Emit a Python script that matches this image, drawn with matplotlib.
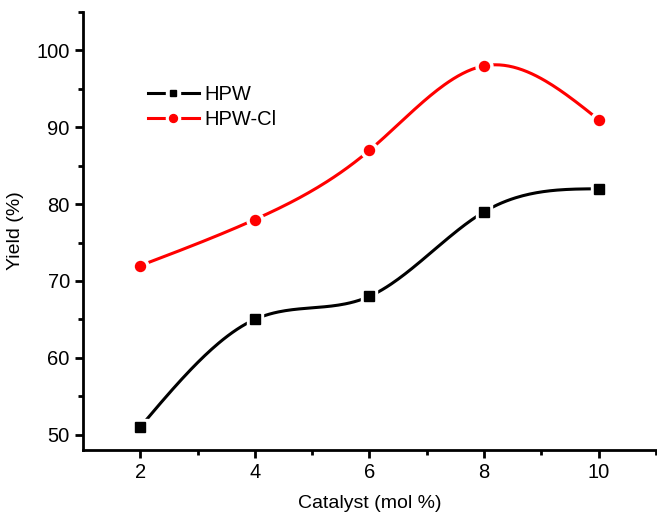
import numpy as np
import matplotlib.pyplot as plt

plt.rcParams['font.family'] = ['Liberation Sans', 'DejaVu Sans']

catalyst = [2, 4, 6, 8, 10]
hpw = [51, 65, 68, 79, 82]
hpw_cl = [72, 78, 87, 98, 91]


def natural_spline(x, y, n=200):
    x = np.asarray(x, float)
    y = np.asarray(y, float)
    k = len(x)
    h = np.diff(x)
    A = np.zeros((k, k))
    b = np.zeros(k)
    A[0, 0] = A[-1, -1] = 1
    for i in range(1, k - 1):
        A[i, i - 1] = h[i - 1]
        A[i, i] = 2 * (h[i - 1] + h[i])
        A[i, i + 1] = h[i]
        b[i] = 6 * ((y[i + 1] - y[i]) / h[i] - (y[i] - y[i - 1]) / h[i - 1])
    M = np.linalg.solve(A, b)
    xs = np.linspace(x[0], x[-1], n)
    idx = np.clip(np.searchsorted(x, xs) - 1, 0, k - 2)
    x0, x1 = x[idx], x[idx + 1]
    hh = x1 - x0
    t0, t1 = x1 - xs, xs - x0
    ys = (M[idx] * t0 ** 3 + M[idx + 1] * t1 ** 3) / (6 * hh) \
        + (y[idx] / hh - M[idx] * hh / 6) * t0 \
        + (y[idx + 1] / hh - M[idx + 1] * hh / 6) * t1
    return xs, ys


fig = plt.figure(figsize=(6.57, 5.14), dpi=100)
ax = fig.add_axes([0.1263, 0.1245, 0.872, 0.852])

handles = []
for ys, col, mk, ms, lab in [(hpw, 'black', 's', 6.5, 'HPW'),
                             (hpw_cl, 'red', 'o', 7.2, 'HPW-Cl')]:
    sx, sy = natural_spline(catalyst, ys)
    ax.plot(sx, sy, color=col, lw=2.2, zorder=2)
    ax.plot(catalyst, ys, ls='none', marker=mk, ms=ms + 5, color='white', zorder=3)
    ax.plot(catalyst, ys, ls='none', marker=mk, ms=ms, color=col, zorder=4)
    h1, = ax.plot([], [], color=col, lw=2.2, marker=mk, ms=ms + 3,
                  mfc='white', mec='white')
    h2, = ax.plot([], [], ls='none', marker=mk, ms=ms - 1.5, color=col)
    handles.append(((h1, h2), lab))

ax.legend([h for h, _ in handles], [l for _, l in handles],
          loc='upper left', bbox_to_anchor=(0.114, 0.833), frameon=False,
          fontsize=14.5, handlelength=2.5, handletextpad=0.3, labelspacing=0.3,
          borderaxespad=0, borderpad=0)

ax.set_xlim(1, 11)
ax.set_ylim(48, 105)
ax.set_xticks(catalyst)
ax.set_xticks([3, 5, 7, 9, 11], minor=True)
ax.set_yticks([50, 60, 70, 80, 90, 100])
ax.set_yticks(np.arange(55, 106, 10), minor=True)
ax.spines['top'].set_visible(False)
ax.spines['right'].set_visible(False)
for s in ['left', 'bottom']:
    ax.spines[s].set_linewidth(2)
ax.tick_params(which='major', direction='out', length=6, width=2, labelsize=14.5)
ax.tick_params(which='minor', direction='out', length=3.5, width=2)
ax.set_xlabel('Catalyst (mol %)', fontsize=14, labelpad=9)
ax.set_ylabel('Yield (%)', fontsize=14, labelpad=9)

fig.savefig('out.png', dpi=100)
